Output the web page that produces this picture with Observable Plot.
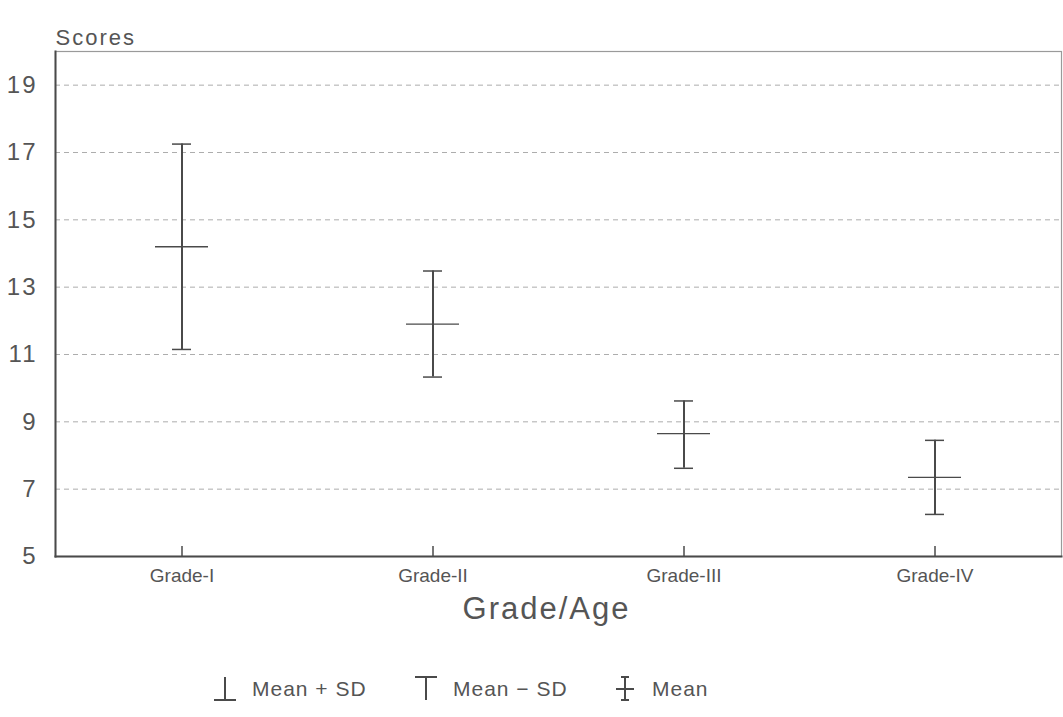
<!DOCTYPE html>
<html>
<head>
<meta charset="utf-8">
<script src="https://cdn.jsdelivr.net/npm/d3@7"></script>
<script src="https://cdn.jsdelivr.net/npm/@observablehq/plot@0.6"></script>
<style>
  html, body { margin: 0; padding: 0; background: #fff; }
  #wrap { position: relative; width: 1063px; height: 717px; font-family: "Liberation Sans", Arial, sans-serif; color: #555; }
  #legend { position: absolute; left: 0; top: 664px; width: 1063px; height: 50px; }
  .item { position: absolute; top: 10px; display: flex; align-items: center; font-size: 21px; letter-spacing: 1px; color: #555; }
  .item svg { margin-right: 14px; }
</style>
</head>
<body>
<div id="wrap">
  <div id="chart"></div>
  <div id="legend"></div>
</div>
<script>
const grades = ["Grade-I", "Grade-II", "Grade-III", "Grade-IV"];
const means  = [14.2, 11.9, 8.65, 7.35];
const upper  = [17.25, 13.48, 9.62, 8.45];
const lower  = [11.15, 10.33, 7.62, 6.25];
const yTicks = [5, 7, 9, 11, 13, 15, 17, 19];
const gridTicks = [7, 9, 11, 13, 15, 17, 19];
const legendItems = [
  {label: "Mean + SD", glyph: "bottom"},
  {label: "Mean \u2212 SD", glyph: "top"},
  {label: "Mean", glyph: "mean"}
];

const data = grades.map((g, i) => ({grade: g, mean: means[i], hi: upper[i], lo: lower[i]}));
const ink = "#4a4a4a";

const chart = Plot.plot({
  width: 1063,
  height: 664,
  marginLeft: 55,
  marginRight: 2,
  marginTop: 51,
  marginBottom: 108,
  style: {fontFamily: "'Liberation Sans', Arial, sans-serif", color: "#555", background: "#fff", overflow: "visible"},
  x: {domain: grades, padding: 0, label: null},
  y: {domain: [5, 20], label: null},
  marks: [
    Plot.gridY(gridTicks, {stroke: "#999", strokeOpacity: 0.8, strokeDasharray: "5,4"}),
    Plot.frame({stroke: "#9a9a9a", strokeWidth: 1.2}),
    Plot.frame({anchor: "left", stroke: ink, strokeWidth: 2}),
    Plot.frame({anchor: "bottom", stroke: ink, strokeWidth: 2}),
    Plot.axisY(yTicks, {tickSize: 0, tickPadding: 18, fontSize: 22, fill: "#555"}),
    Plot.axisX({tickSize: 0, tickPadding: 12, fontSize: 19, fill: "#555", label: null}),
    Plot.axisX({tickSize: -10, text: null, stroke: ink, strokeWidth: 1.5, label: null}),
    Plot.ruleX(data, {x: "grade", y1: "lo", y2: "hi", stroke: ink, strokeWidth: 2}),
    Plot.tickY(data, {x: "grade", y: "hi", stroke: ink, strokeWidth: 1.5, insetLeft: 116, insetRight: 116}),
    Plot.tickY(data, {x: "grade", y: "lo", stroke: ink, strokeWidth: 1.5, insetLeft: 116, insetRight: 116}),
    Plot.tickY(data, {x: "grade", y: "mean", stroke: ink, strokeWidth: 1.3, insetLeft: 99, insetRight: 99}),
    Plot.text(["Scores"], {frameAnchor: "top-left", dy: -22, dx: 0, textAnchor: "start", fontSize: 22, fill: "#555"}),
    Plot.text(["Grade/Age"], {frameAnchor: "bottom", dy: 62, dx: -12, fontSize: 31, fill: "#555"})
  ]
});
document.getElementById("chart").appendChild(chart);

// enlarge tick labels (wide retro lettering)
const svg = d3.select(chart);
svg.selectAll('g[aria-label="y-axis tick label"] text').style("font-size", "24px").style("letter-spacing", "2px");
svg.selectAll('g[aria-label="x-axis tick label"] text').style("font-size", "19px");
svg.selectAll('g[aria-label="text"] text').style("letter-spacing", "2px");

// legend
const lefts = [212, 413, 612];
const legend = d3.select("#legend");
legendItems.forEach((it, i) => {
  const div = legend.append("div").attr("class", "item").style("left", lefts[i] + "px");
  const s = div.append("svg").attr("width", 26).attr("height", 30);
  const g = s.append("g").attr("stroke", ink).attr("stroke-width", 2).attr("fill", "none");
  g.append("line").attr("x1", 13).attr("x2", 13).attr("y1", 3).attr("y2", 26);
  if (it.glyph === "bottom") {
    g.append("line").attr("x1", 2).attr("x2", 24).attr("y1", 26).attr("y2", 26);
  } else if (it.glyph === "top") {
    g.append("line").attr("x1", 2).attr("x2", 24).attr("y1", 3).attr("y2", 3);
  } else {
    g.append("line").attr("x1", 9).attr("x2", 17).attr("y1", 3).attr("y2", 3);
    g.append("line").attr("x1", 4).attr("x2", 22).attr("y1", 15).attr("y2", 15);
    g.append("line").attr("x1", 9).attr("x2", 17).attr("y1", 26).attr("y2", 26);
  }
  div.append("span").text(it.label);
});
</script>
</body>
</html>
